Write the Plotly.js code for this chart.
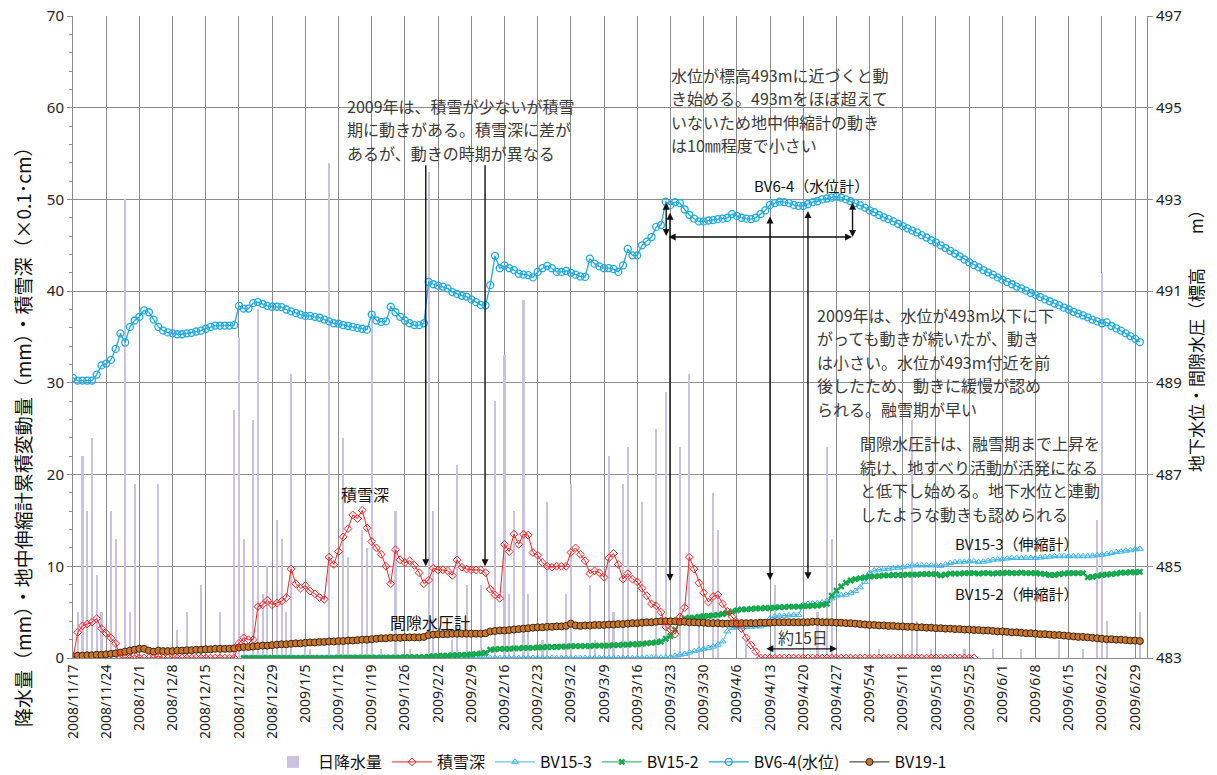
<!DOCTYPE html>
<html>
<head>
<meta charset="utf-8">
<script src="https://cdn.plot.ly/plotly-3.0.1.min.js"></script>
<style>
html,body{margin:0;padding:0;background:#fff;}
#chart{width:1217px;height:775px;}
</style>
</head>
<body>
<div id="chart"></div>
<script>
// Daily series: first value belongs to the start date, one value per day after that.
const firstDay = '2008-11-17';
const sensorStartDay = '2008-12-23';

// 日降水量 (mm)
const precip = [
  0,5,22,16,24,9,5,0,16,13,
  0,50,5,19,0,0,0,0,19,0,
  0,0,3,0,5,0,0,8,0,0,
  0,5,0,0,27,35,13,0,26,38,
  7,10,0,15,13,5,31,0,0,2,
  1,0,0,0,54,0,2,24,11,0,
  0,14,12,37,0,1,0,0,16,0,
  0,1,0,0,0,53,16,0,0,0,
  2,21,0,8,0,0,8,0,0,28,
  0,33,7,16,0,39,7,0,0,2,
  17,0,0,0,7,19,0,0,0,8,
  2,0,0,22,5,0,19,23,0,0,
  17,0,0,25,0,29,0,0,23,0,
  31,0,4,0,0,18,14,0,0,0,
  0,0,2,0,0,0,0,0,8,0,
  0,0,0,0,0,0,0,5,0,23,
  13,0,0,0,0,0,0,0,0,0,
  1,0,0,0,0,0,0,26,4,0,
  0,1,0,0,0,0,0,0,1,0,
  0,0,0,0,1,0,0,0,0,0,
  1,0,0,0,0,0,0,0,2,0,
  0,0,0,1,0,0,15,42,4,0,
  0,0,0,0,0,5
];

// 積雪深 (×0.1 cm)
const snowDepth = [
  0,2.8,3.5,3.7,3.9,4.3,3.2,2.7,2.2,1.6,
  0,0,0,0.3,0,0,0,0,0.2,0,
  0,0,0,0,0,0,0,0,0,0,
  0,0,0,0,0,1.6,2.2,2.0,2.0,5.6,
  5.8,6.3,5.8,6.0,6.2,6.6,9.7,8.1,7.6,7.9,
  7.3,7.0,6.6,6.4,11.0,10.2,11.6,13.2,14.1,15.6,
  15.2,16.1,14.2,12.7,12.0,11.3,10.0,8.1,11.8,10.7,
  10.4,10.6,10.1,9.3,8.1,8.5,9.8,9.6,9.6,9.5,
  9.0,10.7,9.9,9.7,9.6,9.6,9.6,9.3,7.5,6.9,
  6.5,12.4,11.6,13.5,12.4,13.5,13.4,11.5,11.2,10.4,
  10.0,9.9,10.0,10.0,10.0,11.5,12.0,11.3,10.6,9.2,
  9.5,9.3,8.8,10.9,11.4,10.2,8.6,9.2,8.6,8.3,
  7.6,6.8,5.9,5.7,5.0,3.4,3.1,2.6,4.5,5.5,
  11.0,9.7,8.2,7.1,6.1,6.7,6.9,5.9,5.1,4.5,
  3.9,3.2,2.2,1.4,0.7,0,0,0,0,0,
  0,0,0,0,0,0,0,0,0,0,
  0,0,0,0,0,0,0,0,0,0,
  0,0,0,0,0,0,0,0,0,0,
  0,0,0,0,0,0,0,0,0,0,
  0
];

// BV15-3 伸縮計 累積変動量 (mm), from sensorStartDay
const bv153 = [
  0,0,0,0,0,0,0,0,0,0,
  0,0,0,0,0,0,0,0,0,0,
  0,0,0,0,0,0,0,0,0,0,
  0,0,0,0,0,0,0,0,0,0,
  0,0,0,0,0,0,0,0,0,0,
  0,0,0,0,0,0,0,0,0,0,
  0,0,0,0,0,0,0,0,0,0,
  0,0,0,0,0,0,0,0,0,0,
  0,0,0,0,0,0.05,0.05,0.05,0.05,0.05,
  0.1,0.25,0.35,0.45,0.6,0.75,0.9,1.0,1.1,1.25,
  1.45,1.8,2.9,3.3,3.35,3.35,3.4,3.4,3.45,3.45,
  3.6,4.3,4.55,4.6,4.6,4.65,4.7,4.7,5.8,5.9,
  5.95,6.0,6.05,6.2,6.5,6.8,6.85,6.9,7.1,7.3,
  7.7,8.3,9.3,9.55,9.65,9.7,9.75,9.8,9.85,9.9,
  10.0,10.1,10.1,10.1,10.1,10.1,10.1,10.05,10.2,10.35,
  10.45,10.5,10.5,10.55,10.55,10.45,10.5,10.6,10.7,10.75,
  10.8,10.85,10.9,10.9,10.9,10.9,10.9,10.9,10.95,11.0,
  11.05,11.1,11.1,11.1,11.1,11.1,11.1,11.1,11.1,11.15,
  11.2,11.25,11.35,11.45,11.55,11.6,11.7,11.75,11.85,11.9
];

// BV15-2 伸縮計 累積変動量 (mm), from sensorStartDay
const bv152 = [
  0,0,0,0,0,0,0,0,0,0,
  0,0,0,0,0,0,0,0,0,0,
  0.05,0.05,0.05,0.05,0.05,0.05,0.05,0.05,0.05,0.05,
  0.05,0.05,0.05,0.05,0.1,0.1,0.1,0.1,0.1,0.15,
  0.2,0.2,0.25,0.25,0.3,0.3,0.35,0.35,0.4,0.45,
  0.5,0.55,0.9,0.95,1.0,1.0,1.0,1.05,1.05,1.1,
  1.1,1.1,1.15,1.15,1.2,1.2,1.2,1.25,1.25,1.3,
  1.3,1.3,1.3,1.3,1.35,1.35,1.35,1.35,1.4,1.4,
  1.45,1.45,1.5,1.5,1.55,1.6,1.65,1.7,1.8,2.1,
  2.4,3.1,3.9,4.3,4.4,4.4,4.5,4.55,4.6,4.65,
  4.7,4.8,4.9,5.05,5.2,5.3,5.3,5.35,5.4,5.4,
  5.45,5.45,5.5,5.55,5.55,5.6,5.6,5.6,5.65,5.65,
  5.7,5.7,5.8,5.9,6.8,7.35,7.8,8.2,8.45,8.6,
  8.7,8.8,8.9,8.9,8.95,9.0,9.0,9.05,9.05,9.05,
  9.1,9.1,9.1,9.15,9.15,9.15,9.15,9.0,9.1,9.2,
  9.2,9.2,9.25,9.25,9.25,9.2,9.25,9.25,9.2,9.25,
  9.25,9.3,9.25,9.25,9.3,9.25,9.25,9.25,9.2,9.15,
  9.05,9.05,9.15,9.2,9.25,9.25,9.25,9.25,8.8,8.85,
  8.95,9.05,9.1,9.15,9.2,9.3,9.3,9.35,9.35,9.4
];

// BV6-4 地下水位 (標高 m)
const bv64 = [
  489.11,489.05,489.05,489.05,489.05,489.18,489.38,489.42,489.50,489.74,
  490.08,489.88,490.22,490.36,490.44,490.58,490.54,490.38,490.22,490.14,
  490.10,490.08,490.06,490.06,490.08,490.09,490.12,490.14,490.18,490.22,
  490.25,490.25,490.25,490.25,490.26,490.68,490.62,490.62,490.74,490.76,
  490.72,490.68,490.66,490.66,490.65,490.60,490.56,490.52,490.49,490.46,
  490.46,490.44,490.42,490.38,490.34,490.30,490.29,490.26,490.24,490.22,
  490.20,490.18,490.16,490.49,490.36,490.33,490.34,490.66,490.54,490.44,
  490.36,490.30,490.26,490.26,490.30,491.20,491.15,491.12,491.10,491.06,
  490.98,490.94,490.90,490.88,490.82,490.76,490.70,490.69,491.13,491.77,
  491.50,491.56,491.50,491.46,491.38,491.36,491.35,491.30,491.42,491.50,
  491.55,491.50,491.42,491.42,491.44,491.40,491.36,491.32,491.31,491.71,
  491.60,491.54,491.50,491.50,491.48,491.42,491.56,491.92,491.78,491.78,
  492.00,492.08,492.18,492.40,492.44,492.95,492.88,492.94,492.92,492.78,
  492.66,492.58,492.52,492.52,492.54,492.55,492.57,492.58,492.60,492.68,
  492.64,492.60,492.58,492.57,492.60,492.68,492.76,492.88,492.92,492.95,
  492.94,492.92,492.88,492.86,492.86,492.90,492.94,492.96,493.00,493.02,
  493.04,493.06,493.04,493.00,492.96,492.92,492.87,492.82,492.76,492.72,
  492.66,492.61,492.57,492.52,492.47,492.42,492.37,492.32,492.28,492.22,
  492.17,492.11,492.06,492.00,491.94,491.88,491.82,491.76,491.69,491.63,
  491.57,491.52,491.46,491.41,491.36,491.30,491.25,491.20,491.15,491.10,
  491.06,491.01,490.96,490.92,490.87,490.82,490.78,490.73,490.69,490.64,
  490.60,490.55,490.51,490.47,490.43,490.38,490.34,490.30,490.32,490.24,
  490.19,490.14,490.08,490.02,489.96,489.89
];

// BV19-1 間隙水圧計
const bv191 = [
  0.2,0.25,0.25,0.3,0.3,0.35,0.35,0.4,0.45,0.5,
  0.6,0.7,0.8,0.9,1.0,1.0,0.8,0.7,0.8,0.75,
  0.75,0.75,0.8,0.8,0.85,0.85,0.9,0.9,0.95,0.95,
  1.0,1.0,1.0,1.0,1.05,1.15,1.2,1.2,1.25,1.3,
  1.35,1.35,1.4,1.45,1.5,1.5,1.55,1.6,1.6,1.65,
  1.7,1.7,1.75,1.75,1.8,1.8,1.85,1.85,1.9,1.9,
  1.95,2.0,2.0,2.05,2.1,2.15,2.15,2.2,2.2,2.2,
  2.25,2.25,2.25,2.25,2.3,2.5,2.55,2.6,2.6,2.6,
  2.65,2.65,2.65,2.65,2.65,2.65,2.65,2.7,2.9,2.95,
  3.0,3.0,3.05,3.1,3.15,3.2,3.25,3.3,3.35,3.35,
  3.4,3.4,3.45,3.45,3.5,3.75,3.55,3.5,3.55,3.55,
  3.6,3.6,3.6,3.65,3.65,3.7,3.7,3.75,3.8,3.8,
  3.85,3.9,3.9,3.95,4.0,4.0,4.0,4.0,3.95,3.95,
  3.9,3.9,3.85,3.85,3.8,3.8,3.8,3.75,3.75,3.75,
  3.75,3.8,3.8,3.8,3.8,3.85,3.85,3.85,3.9,3.9,
  3.9,3.9,3.9,3.9,3.9,3.9,3.95,3.95,3.9,3.9,
  3.9,3.85,3.85,3.8,3.8,3.75,3.7,3.65,3.6,3.6,
  3.55,3.55,3.5,3.5,3.45,3.45,3.4,3.4,3.35,3.35,
  3.3,3.3,3.25,3.25,3.2,3.2,3.15,3.15,3.1,3.1,
  3.05,3.05,3.0,3.0,2.95,2.9,2.9,2.85,2.8,2.8,
  2.75,2.7,2.7,2.65,2.6,2.6,2.55,2.5,2.5,2.45,
  2.4,2.35,2.3,2.3,2.25,2.2,2.15,2.1,2.05,2.05,
  2.0,2.0,1.95,1.9,1.9,1.85
];

// ---- date helpers ----
const DAY_MS = 86400000;
function pad(n){ return (n < 10 ? '0' : '') + n; }
function dateAt(start, days){
  const d = new Date(Date.parse(start + 'T00:00:00Z') + Math.round(days * DAY_MS));
  return d.getUTCFullYear() + '-' + pad(d.getUTCMonth() + 1) + '-' + pad(d.getUTCDate()) +
         ' ' + pad(d.getUTCHours()) + ':' + pad(d.getUTCMinutes());
}
function slashLabel(start, days){
  const d = new Date(Date.parse(start + 'T00:00:00Z') + days * DAY_MS);
  return d.getUTCFullYear() + '/' + (d.getUTCMonth() + 1) + '/' + d.getUTCDate();
}
function datesFor(start, arr){ return arr.map(function(_, i){ return dateAt(start, i); }); }

// weekly ticks
const tickVals = [], tickText = [];
for (let w = 0; w <= 32; w++) {
  tickVals.push(dateAt(firstDay, w * 7));
  tickText.push(slashLabel(firstDay, w * 7));
}

const jp = '"Noto Sans CJK JP", "Noto Sans", sans-serif';
const lat = '"Noto Sans", "Noto Sans CJK JP", sans-serif';

const traces = [
  {
    type: 'bar', name: '日降水量', legendrank: 1,
    x: datesFor(firstDay, precip), y: precip,
    width: 0.45 * DAY_MS,
    marker: { color: '#c9c3dd', line: { width: 0 } }
  },
  {
    type: 'scatter', mode: 'lines+markers', name: 'BV6-4(水位)', legendrank: 5,
    x: datesFor(firstDay, bv64), y: bv64, yaxis: 'y2',
    line: { color: '#1ea9e1', width: 1.3 },
    marker: { symbol: 'circle-open', size: 7, color: '#1ea9e1', line: { width: 1.3 } }
  },
  {
    type: 'scatter', mode: 'lines+markers', name: 'BV15-3', legendrank: 3,
    x: datesFor(sensorStartDay, bv153), y: bv153,
    line: { color: '#3cb6ec', width: 1 },
    marker: { symbol: 'triangle-up-open', size: 6, color: '#3cb6ec', line: { width: 1 } }
  },
  {
    type: 'scatter', mode: 'lines+markers', name: 'BV15-2', legendrank: 4,
    x: datesFor(sensorStartDay, bv152), y: bv152,
    line: { color: '#14a84c', width: 1 },
    marker: { symbol: 'x', size: 6, color: '#14a84c', line: { width: 0 } }
  },
  {
    type: 'scatter', mode: 'lines+markers', name: 'BV19-1', legendrank: 6,
    x: datesFor(firstDay, bv191), y: bv191,
    line: { color: '#2e2012', width: 1 },
    marker: { symbol: 'circle', size: 7, color: '#c8772e', line: { color: '#3a2512', width: 1 } }
  },
  {
    type: 'scatter', mode: 'lines+markers', name: '積雪深', legendrank: 2,
    x: datesFor(firstDay, snowDepth), y: snowDepth,
    line: { color: '#ff1f1f', width: 1 },
    marker: { symbol: 'diamond-open', size: 6, color: '#ff1f1f', line: { width: 1 } }
  }
];

// ---- notes and arrows ----
const annotations = [];
function textBlock(lines, startDay, topValue, size){
  lines.forEach(function(t, i){
    annotations.push({
      xref: 'x', yref: 'y', x: dateAt(firstDay, startDay), y: topValue - i * 2.56,
      xanchor: 'left', yanchor: 'middle', showarrow: false, text: t,
      font: { family: jp, size: size || 16, color: '#3a3a3a' }
    });
  });
}
function label(t, day, value, size){
  annotations.push({
    xref: 'x', yref: 'y', x: dateAt(firstDay, day), y: value,
    xanchor: 'center', yanchor: 'middle', showarrow: false, text: t,
    font: { family: jp, size: size || 15, color: '#111' }
  });
}
function arrow(d0, v0, d1, v1, both){
  annotations.push({
    xref: 'x', yref: 'y', axref: 'x', ayref: 'y',
    x: dateAt(firstDay, d1), y: v1, ax: dateAt(firstDay, d0), ay: v0,
    text: '', showarrow: true, arrowhead: 2, startarrowhead: 2,
    arrowside: both ? 'end+start' : 'end', arrowsize: 1, startarrowsize: 1,
    arrowwidth: 1.4, arrowcolor: '#111', standoff: 0, startstandoff: 0
  });
}

textBlock(['2009年は、積雪が少ないが積雪', '期に動きがある。積雪深に差が', 'あるが、動きの時期が異なる'], 57.3, 60.2);
textBlock(['水位が標高493mに近づくと動', 'き始める。493mをほぼ超えて', 'いないため地中伸縮計の動き', 'は10㎜程度で小さい'], 125.7, 63.6);
textBlock(['2009年は、水位が493m以下に下', 'がっても動きが続いたが、動き', 'は小さい。水位が493m付近を前', '後したため、動きに緩慢が認め', 'られる。融雪期が早い'], 156.4, 37.4);
textBlock(['間隙水圧計は、融雪期まで上昇を', '続け、地すべり活動が活発になる', 'と低下し始める。地下水位と連動', 'したような動きも認められる'], 165.5, 23.4);

label('BV6-4（水位計）', 155.8, 51.5, 15);
label('BV15-3（伸縮計）', 199.0, 12.5, 15);
label('BV15-2（伸縮計）', 199.0, 7.0, 15);
label('積雪深', 61.6, 17.9, 16);
label('間隙水圧計', 75.3, 3.9, 16);
annotations.push({
  xref: 'x', yref: 'y', x: dateAt(firstDay, 153.9), y: 2.3,
  xanchor: 'center', yanchor: 'middle', showarrow: false, text: '約15日',
  font: { family: jp, size: 16, color: '#3a3a3a' }
});

arrow(74.4, 53.9, 74.4, 10.0, false);
arrow(86.9, 53.9, 86.9, 10.0, false);
arrow(125.9, 48.7, 125.9, 8.4, true);
arrow(125.1, 49.8, 125.1, 46.0, true);
arrow(125.3, 45.9, 164.3, 45.9, true);
arrow(147.0, 48.3, 147.0, 8.5, true);
arrow(155.0, 48.9, 155.0, 8.6, true);
arrow(164.4, 49.8, 164.4, 45.9, true);
arrow(145.9, 1.0, 161.1, 1.0, true);

// axis titles
annotations.push({
  xref: 'paper', yref: 'paper', x: -0.0475, y: 0.352, xanchor: 'center', yanchor: 'middle',
  textangle: -90, showarrow: false,
  text: '降水量（mm）・地中伸縮計累積変動量（mm）・積雪深（×0.1･cm）',
  font: { family: jp, size: 19, color: '#111' }
});
annotations.push({
  xref: 'paper', yref: 'paper', x: 1.0447, y: 0.5, xanchor: 'center', yanchor: 'middle',
  textangle: -90, showarrow: false,
  text: '地下水位・間隙水圧（標高　　m）',
  font: { family: jp, size: 17, color: '#111' }
});

const gridColor = '#8c8c8c';
const layout = {
  width: 1217, height: 775,
  margin: { l: 73, r: 70, t: 16, b: 117, autoexpand: false },
  paper_bgcolor: '#fff', plot_bgcolor: '#fff',
  showlegend: true,
  bargap: 0,
  legend: {
    orientation: 'h', x: 0.5, xanchor: 'center', y: -0.162, yanchor: 'middle',
    font: { family: jp, size: 16, color: '#111' }, traceorder: 'normal',
    itemwidth: 40, bgcolor: 'rgba(0,0,0,0)'
  },
  xaxis: {
    type: 'date', automargin: false,
    range: [dateAt(firstDay, 0), dateAt(firstDay, 226.5)],
    tickmode: 'array', tickvals: tickVals, ticktext: tickText, tickangle: -90,
    tickfont: { family: lat, size: 14, color: '#222' },
    showgrid: true, gridcolor: gridColor, gridwidth: 1,
    showline: true, linecolor: gridColor, linewidth: 1,
    ticks: '', zeroline: false
  },
  yaxis: {
    range: [0, 70], dtick: 10, tick0: 0, automargin: false,
    tickfont: { family: lat, size: 15, color: '#222' },
    showgrid: true, gridcolor: gridColor, gridwidth: 1,
    showline: true, linecolor: gridColor, linewidth: 1,
    ticks: 'outside', ticklen: 5, tickcolor: gridColor,
    minor: { dtick: 2, ticks: 'outside', ticklen: 3, tickcolor: gridColor, showgrid: false },
    zeroline: false
  },
  yaxis2: {
    overlaying: 'y', side: 'right', automargin: false,
    range: [483, 497], dtick: 2, tick0: 483,
    tickfont: { family: lat, size: 15, color: '#222' },
    showgrid: false, showline: true, linecolor: gridColor, linewidth: 1,
    ticks: 'outside', ticklen: 5, tickcolor: gridColor, zeroline: false
  },
  annotations: annotations
};

Plotly.newPlot('chart', traces, layout, { displayModeBar: false, staticPlot: true });
</script>
</body>
</html>
